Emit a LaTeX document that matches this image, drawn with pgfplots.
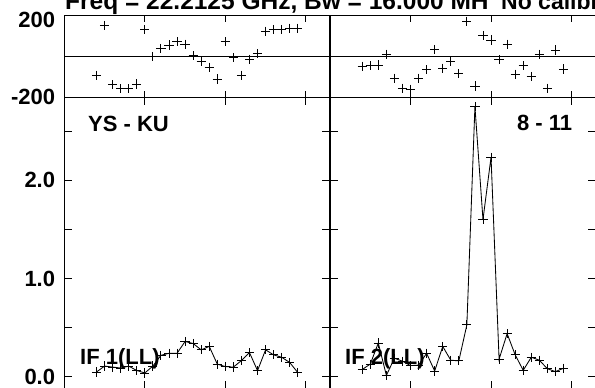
\documentclass[border=0pt]{standalone}
\usepackage{pgfplots}
\pgfplotsset{compat=1.18}
\usepackage{fontspec}
\setmainfont{Liberation Sans}
\newcommand{\bigbf}{\fontsize{22}{22}\selectfont\bfseries}
\newcommand{\titlebf}{\fontsize{24.5}{24.5}\selectfont\bfseries}

\pgfplotstableread{
ch ph
4 -92
5 152
6 -139
7 -158
8 -158
9 -135
10 132
11 0
12 39
13 56
14 73
15 60
16 3
17 -26
18 -52
19 -110
20 73
21 -6
22 -92
23 -13
24 13
25 124
26 132
27 132
28 139
29 139
}\phaseL

\pgfplotstableread{
ch ph
4 -48
5 -45
6 -42
7 11
8 -106
9 -155
10 -161
11 -106
12 -65
13 35
14 -58
15 -26
16 -85
17 173
18 -145
19 103
20 81
21 -16
22 60
23 -87
24 -45
25 -98
26 11
27 -155
28 32
29 -61
}\phaseR

\pgfplotstableread{
ch amp
4 0.05
5 0.11
6 0.10
7 0.09
8 0.11
9 0.065
10 0.04
11 0.11
12 0.22
13 0.24
14 0.24
15 0.36
16 0.34
17 0.275
18 0.31
19 0.13
20 0.105
21 0.10
22 0.166
23 0.247
24 0.064
25 0.275
26 0.224
27 0.20
28 0.146
29 0.044
}\ampL

\pgfplotstableread{
ch amp
4 0.075
5 0.13
6 0.345
7 0.015
8 0.19
9 0.16
10 0.115
11 0.12
12 0.24
13 0.06
14 0.31
15 0.17
16 0.163
17 0.53
18 2.75
19 1.60
20 2.235
21 0.18
22 0.44
23 0.224
24 0.067
25 0.20
26 0.17
27 0.083
28 0.054
29 0.088
}\ampR

\pgfplotsset{
  panel/.style={
    scale only axis, width=265.7pt,
    xmin=0, xmax=33, xtick={10,20,30}, xticklabels={},
    axis line style={line width=1.1pt, black},
    tick style={black, line width=0.9pt},
    tick align=inside,
    every tick label/.append style={font=\bigbf},
    yticklabel style={inner sep=0pt, xshift=-9pt},
  },
  phase/.style={panel, height=81.6pt, ymin=-200, ymax=200, major tick length=6pt},
  amp/.style={panel, height=291.7pt, ymin=-0.123, ymax=2.844, major tick length=8pt,
    ytick={0,0.5,1,1.5,2,2.5}},
  pts/.style={black, line width=0.85pt, mark=+, mark size=4.6pt, mark options={line width=0.85pt}},
}

\begin{document}
\begin{tikzpicture}
% phase panels
\begin{axis}[phase, at={(64.3pt,290.7pt)}, anchor=south west,
  ytick={-200}, yticklabels={-200},
  extra y ticks={200}, extra y tick labels={200},
  extra y tick style={yticklabel style={yshift=-4pt}}]
  \draw[line width=0.9pt] (rel axis cs:0,0.5) -- (rel axis cs:1,0.5);
  \addplot[pts, only marks] table[x=ch, y=ph] {\phaseL};
\end{axis}
\begin{axis}[phase, at={(330pt,290.7pt)}, anchor=south west, ytick=\empty]
  \draw[line width=0.9pt] (rel axis cs:0,0.5) -- (rel axis cs:1,0.5);
  \addplot[pts, only marks] table[x=ch, y=ph] {\phaseR};
\end{axis}
% amplitude panels
\begin{axis}[amp, at={(64.3pt,-1pt)}, anchor=south west,
  yticklabels={0.0,,1.0,,2.0,}]
  \addplot[pts] table[x=ch, y=amp] {\ampL};
\end{axis}
\begin{axis}[amp, at={(330pt,-1pt)}, anchor=south west, yticklabels={}]
  \addplot[pts] table[x=ch, y=amp] {\ampR};
\end{axis}
% texts
\node[anchor=base west, inner sep=0pt, font=\titlebf] at (65pt,378pt) {Freq = 22.2125 GHz, Bw = 16.000 MH\textquotedbl};
\node[anchor=base west, inner sep=0pt, font=\fontsize{23}{23}\selectfont\bfseries] at (501pt,378pt) {No calibration};
\node[anchor=base west, inner sep=0pt, font=\bigbf] at (88pt,256.3pt) {YS - KU};
\node[anchor=base east, inner sep=0pt, font=\bigbf] at (572.3pt,257pt) {8 - 11};
\node[anchor=base west, inner sep=0pt, font=\bigbf] at (80pt,23pt) {IF 1(LL)};
\node[anchor=base west, inner sep=0pt, font=\bigbf] at (345pt,23pt) {IF 2(LL)};
\pgfresetboundingbox
\path[use as bounding box] (0pt,0pt) rectangle (595pt,388pt);
\end{tikzpicture}
\end{document}
